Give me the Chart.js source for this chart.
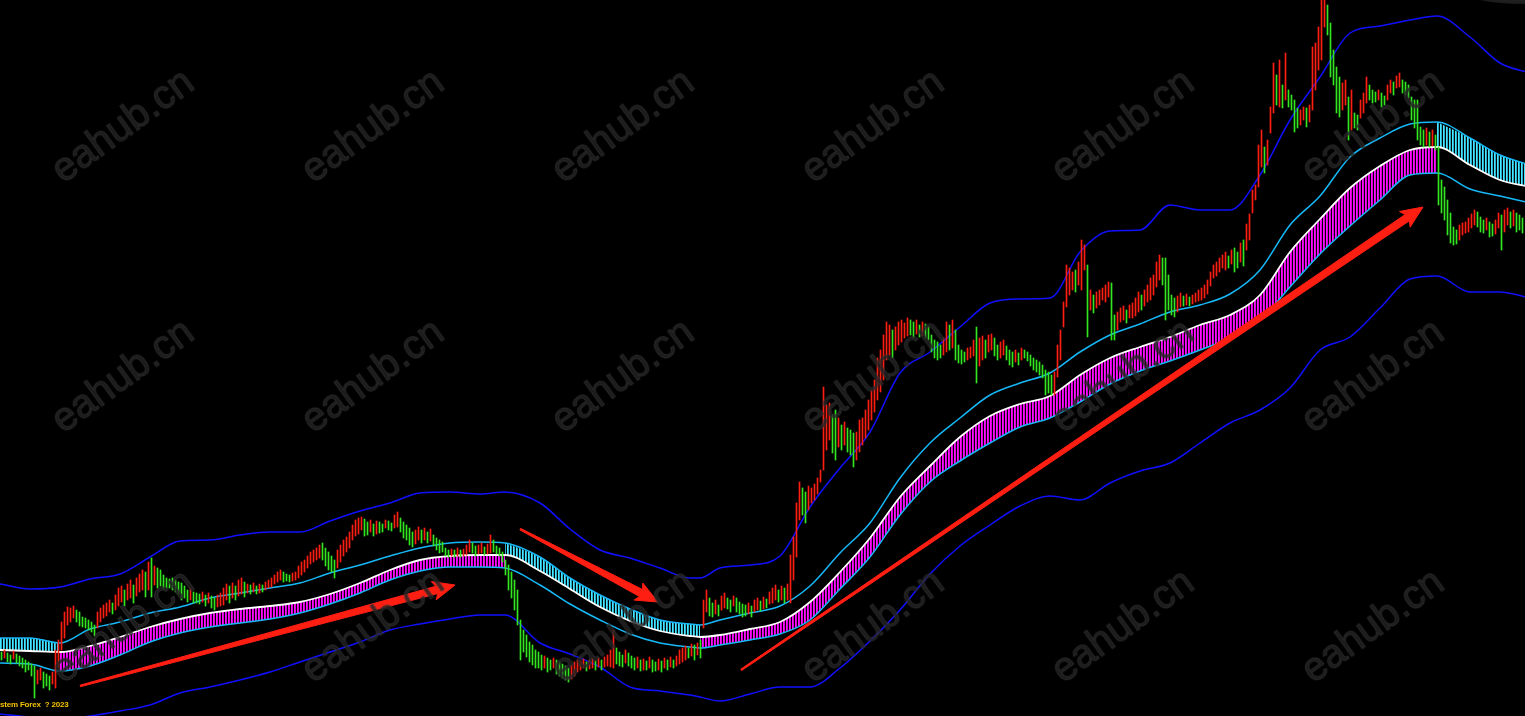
<!DOCTYPE html>
<html>
<head>
<meta charset="utf-8">
<title>Trend ribbon</title>
<script src="https://cdn.jsdelivr.net/npm/chart.js@4.4.0/dist/chart.umd.min.js"></script>
<style>
  html, body { margin: 0; padding: 0; background: #000; overflow: hidden; }
  #wrap { position: relative; width: 1525px; height: 716px; }
  .wm {
    position: absolute;
    font: 40px "Liberation Sans", Arial, sans-serif;
    color: rgba(34, 34, 34, 0.8);
    -webkit-text-stroke: 1px rgba(58, 58, 58, 0.6);
    transform: translate(-50%, -50%) rotate(-36deg);
    white-space: nowrap;
    pointer-events: none;
  }
  #copy {
    position: absolute; left: 0; top: 700px;
    font: bold 8px "Liberation Sans", Arial, sans-serif;
    letter-spacing: -0.2px;
    color: #f2c200;
    white-space: pre;
  }
  #blob {
    position: absolute; left: 1462px; top: -24px; width: 120px; height: 28px;
    border-radius: 50%;
    background: radial-gradient(ellipse at center, #3a3a3a 0%, #1a1a1a 70%, rgba(0,0,0,0) 100%);
  }
</style>
</head>
<body>
<div id="wrap">
  <canvas id="chart"></canvas>
  <div id="blob"></div>
  <div id="copy">stem Forex  ? 2023</div>
</div>
<script>
// x = time (one bar every 3 units), y = level measured from the top (axis reversed)
const knotX = [0,30,60,90,120,150,180,210,240,270, 300,330,360,390,420,450,480,505,540,570,
  600,630,660,690,700,720,750,780,810,840, 870,900,930,960,990,1020,1050,1080,1110,1140,
  1170,1200,1230,1260,1290,1320,1350,1380,1410,1437, 1470,1500,1530];

// white moving average
const maLine = [650,651,652,646,637,627,619,613,609,606, 602,594,583,570,560,556,555,555,571,589,
  607,621,631,636,637,635,629,622,602,572, 538,497,466,437,416,404,396,375,358,347,
  337,325,315,295,252,219,188,166,150,147, 165,180,187];
// inner (sky blue) channel
const innerUp = [638,638,643,629,622,613,607,598,593,588, 583,573,565,556,548,543,542,543,557,578,
  595,609,620,624,625,620,613,606,586,553, 523,478,443,418,395,383,373,352,335,324,
  312,305,294,270,225,196,157,138,124,122, 138,155,165];
const innerDn = [663,664,671,666,655,642,633,627,623,619, 613,604,593,580,571,567,567,568,585,604,
  620,634,643,647,648,645,640,634,620,589, 557,515,482,461,443,427,418,402,384,371,
  361,350,338,320,287,254,226,200,175,173, 189,196,203];
// outer (blue) channel
const outerUp = [584,589,587,579,574,557,541,540,535,532, 532,521,511,503,493,492,494,492,503,529,
  550,558,568,578,578,568,565,556,507,468, 432,373,352,327,303,299,298,252,231,230,
  205,210,210,175,120,77,33,26,20,16, 37,63,73];
const outerDn = [714,717,719,716,711,705,693,687,680,672, 662,652,642,630,624,619,615,615,643,654,
  667,687,691,695,697,701,694,687,687,668, 641,610,574,546,525,506,496,500,483,471,
  463,443,423,410,388,350,337,308,279,276, 292,292,298];

// trend phases of the ribbon
const trendSegs = [[0, 60, 'bear'], [60, 505, 'bull'], [505, 700, 'bear'], [700, 1437, 'bull'], [1437, 1530, 'bear']];

// price bars, one every 3 time units
const barTop = [652,650,653,655,651,654,656,658,660,662, 664,666,670,668,672,674,676,672,650,640,
  622,612,607,608,606,610,612,617,618,620, 622,625,612,608,605,603,600,603,595,588,
  586,590,584,580,585,578,574,570,572,562, 558,566,568,570,575,578,579,578,580,582,
  583,586,590,588,592,593,594,592,595,593, 596,598,595,593,588,584,586,583,586,580,
  578,582,584,585,583,586,584,585,582,580, 578,575,572,570,572,574,575,573,572,566,
  562,560,556,552,550,548,545,543,548,552, 556,560,550,545,540,537,532,525,520,518,
  517,519,522,520,524,521,522,524,520,521, 523,515,512,518,522,525,528,532,530,527,
  530,528,532,529,535,538,540,542,548,550, 549,550,548,550,549,545,540,543,546,545,
  543,547,544,535,540,546,548,552,560,565, 572,580,590,620,630,635,642,645,650,652,
  655,656,658,660,658,660,662,664,666,668, 665,662,660,661,659,662,660,658,661,658,
  660,657,655,650,630,648,652,655,650,653, 656,658,657,660,659,661,657,660,662,659,
  661,658,660,657,660,656,650,648,646,648, 644,645,643,640,600,590,598,603,600,605,
  596,593,598,600,596,598,602,604,605,603, 606,600,598,601,597,599,592,588,585,590,
  586,588,584,555,537,503,482,488,492,486, 488,484,478,470,387,405,403,415,410,418,
  425,422,428,430,433,432,420,418,410,400, 390,380,358,350,335,322,325,330,327,322,
  320,323,318,320,322,320,325,322,324,326, 335,340,342,345,338,322,325,320,330,345,
  350,352,348,347,340,327,338,336,340,335, 334,338,345,342,340,346,350,352,350,353,
  348,350,352,355,358,360,362,365,370,372, 375,372,345,330,302,265,268,272,270,262,
  240,245,265,290,295,292,290,288,285,282, 283,315,312,308,306,310,305,303,298,292,
  295,290,285,278,275,262,255,258,258,275, 295,298,296,293,296,294,297,295,293,290,
  288,285,280,272,265,262,258,255,252,256, 250,248,252,243,240,224,214,190,185,145,
  130,147,140,107,63,75,60,85,53,90, 95,100,108,110,107,108,105,47,43,27,
  0,-5,5,23,50,67,77,83,80,97, 90,113,115,100,93,77,85,90,92,90,
  93,96,85,80,82,76,73,80,82,85, 97,100,100,127,130,128,132,130,135,147,
  180,187,200,213,227,230,225,223,222,218, 214,210,212,217,220,218,222,224,220,213,
  215,210,208,212,210,213,215,218];
const barBottom = [660,658,662,664,659,663,666,668,672,670, 676,698,684,680,688,686,690,684,688,668,
  650,638,625,622,618,622,626,627,628,630, 632,636,628,622,618,616,612,614,610,606,
  602,606,600,598,603,596,592,590,597,590, 597,585,588,586,589,588,588,590,592,594,
  600,598,602,600,603,603,604,602,606,603, 608,610,607,606,605,600,603,598,600,596,
  594,597,593,594,592,594,593,592,590,588, 587,584,582,580,582,581,582,581,580,578,
  575,572,568,564,562,560,558,560,566,570, 572,578,568,562,556,552,548,540,536,534,
  530,536,535,532,536,534,533,532,528,530, 531,528,527,532,538,540,545,547,544,540,
  543,540,543,541,546,550,553,552,556,557, 556,557,556,557,556,555,552,553,556,554,
  553,555,554,553,552,554,556,562,575,590, 598,610,625,660,652,657,662,665,668,668,
  670,668,672,670,668,674,676,678,680,682, 679,676,672,670,668,671,669,668,670,667,
  670,667,666,667,668,664,666,667,663,666, 668,670,668,671,670,670,668,672,671,670,
  672,668,670,667,668,666,664,662,660,658, 656,660,655,658,628,612,616,617,614,616,
  610,608,609,612,606,612,614,617,616,614, 617,612,610,611,609,608,604,603,600,602,
  600,603,600,603,580,557,520,515,523,510, 503,500,494,482,470,450,440,453,460,447,
  450,445,452,455,467,460,452,445,438,430, 420,412,400,392,380,360,355,358,350,345,
  342,338,336,335,338,334,337,336,338,340, 352,358,360,358,355,352,350,348,360,363,
  364,362,360,358,356,383,366,360,358,352, 350,356,360,358,355,360,365,367,362,365,
  360,358,361,366,370,372,375,378,395,393, 395,395,377,360,327,307,295,290,292,285,
  290,270,337,310,313,308,305,300,302,297, 340,340,330,322,320,323,318,318,316,312,
  310,306,302,300,295,287,280,285,320,310, 315,317,312,307,306,305,306,304,302,301,
  300,298,294,286,278,276,272,268,270,268, 264,272,268,262,266,250,240,213,200,187,
  167,173,165,133,113,105,107,108,100,107, 110,132,128,125,120,127,122,110,90,70,
  60,27,35,77,85,113,117,110,105,140, 130,128,130,118,113,103,100,103,102,100,
  107,105,100,93,95,88,87,93,95,98, 120,128,140,145,147,145,147,146,150,205,
  213,220,235,243,245,244,240,235,233,232, 228,225,227,232,233,230,237,236,234,228,
  250,232,225,228,226,232,230,233];
const BAR_STEP = 3;

// annotation arrows: [fromX, fromY, toX, toY]
const arrows = [[80, 686, 455, 585], [520, 529, 658, 602], [741, 670, 1423, 207]];

// watermark grid
const wmCols = [122, 372, 622, 872, 1122, 1372];
const wmRows = [125, 375, 625];

const RED = '#ff1e12';
const GREEN = '#33e61f';

const wrap = document.getElementById('wrap');
wmRows.forEach(y => wmCols.forEach(x => {
  const d = document.createElement('div');
  d.className = 'wm';
  d.textContent = 'eahub.cn';
  d.style.left = x + 'px';
  d.style.top = y + 'px';
  wrap.appendChild(d);
}));

const canvas = document.getElementById('chart');
const ctx = canvas.getContext('2d');

function stripes(cols) {
  const c = document.createElement('canvas');
  c.width = cols.length; c.height = 4;
  const g = c.getContext('2d');
  cols.forEach((col, i) => { g.fillStyle = col; g.fillRect(i, 0, 1, 4); });
  return ctx.createPattern(c, 'repeat');
}
const bullFillPattern = stripes(['#ff10ff', '#d800d8', '#000000']);
const bearFillPattern = stripes(['#48e6ff', '#2aa8c8', '#000000']);

const pts = arr => knotX.map((x, i) => ({ x: x, y: arr[i] }));
const inTrend = (x, dir) => trendSegs.some(s => s[2] === dir && x >= s[0] && x <= s[1]);
const bullEdge = knotX.map((x, i) => ({ x: x, y: inTrend(x, 'bull') ? innerDn[i] : null }));
const bearEdge = knotX.map((x, i) => ({ x: x, y: inTrend(x, 'bear') ? innerUp[i] : null }));

const priceBars = barTop.map((t, i) => ({ x: i * BAR_STEP + 1.5, y: [t, barBottom[i]] }));
const barColors = priceBars.map((b, i) => {
  if (i === 0) return GREEN;
  const mid = (b.y[0] + b.y[1]) / 2;
  const prev = (priceBars[i - 1].y[0] + priceBars[i - 1].y[1]) / 2;
  return mid < prev ? RED : GREEN;
});

function arrowShape(a) {
  const [x1, y1, x2, y2] = a;
  const dx = x2 - x1, dy = y2 - y1, len = Math.hypot(dx, dy);
  const ux = dx / len, uy = dy / len, nx = -uy, ny = ux;
  const headLen = 19, headHalf = 9.5, shaftHalf = 3.8, tailHalf = 0.8;
  const bx = x2 - ux * headLen, by = y2 - uy * headLen;
  return [
    { x: x1 + nx * tailHalf, y: y1 + ny * tailHalf },
    { x: bx + nx * shaftHalf, y: by + ny * shaftHalf },
    { x: bx + nx * headHalf - ux * 3, y: by + ny * headHalf - uy * 3 },
    { x: x2, y: y2 },
    { x: bx - nx * headHalf - ux * 3, y: by - ny * headHalf - uy * 3 },
    { x: bx - nx * shaftHalf, y: by - ny * shaftHalf },
    { x: x1 - nx * tailHalf, y: y1 - ny * tailHalf }
  ];
}

const lineBase = { type: 'line', pointRadius: 0, cubicInterpolationMode: 'monotone', fill: false };

const datasets = [
  { ...lineBase, label: 'MA', data: pts(maLine), borderColor: '#ffffff', borderWidth: 1.8, order: 2 },
  { ...lineBase, label: 'Inner upper', data: pts(innerUp), borderColor: '#16b8f8', borderWidth: 1.5, order: 3 },
  { ...lineBase, label: 'Inner lower', data: pts(innerDn), borderColor: '#16b8f8', borderWidth: 1.5, order: 3 },
  { ...lineBase, label: 'Outer upper', data: pts(outerUp), borderColor: '#1010ff', borderWidth: 1.5, order: 4 },
  { ...lineBase, label: 'Outer lower', data: pts(outerDn), borderColor: '#1010ff', borderWidth: 1.5, order: 4 },
  { ...lineBase, label: 'Bull ribbon', data: bullEdge, borderWidth: 0, borderColor: 'rgba(0,0,0,0)',
    backgroundColor: bullFillPattern, fill: 0, spanGaps: false, order: 5 },
  { ...lineBase, label: 'Bear ribbon', data: bearEdge, borderWidth: 0, borderColor: 'rgba(0,0,0,0)',
    backgroundColor: bearFillPattern, fill: 0, spanGaps: false, order: 5 },
  { type: 'bar', label: 'Price', data: priceBars, backgroundColor: barColors, barThickness: 1,
    borderWidth: 0, borderSkipped: false, order: 1 }
];
arrows.forEach((a, i) => {
  datasets.push({ type: 'line', label: 'Arrow ' + (i + 1), data: arrowShape(a), pointRadius: 0, tension: 0,
    borderColor: RED, borderWidth: 1, backgroundColor: RED, fill: 'shape', order: 0 });
});

new Chart(canvas, {
  type: 'bar',
  data: { datasets: datasets },
  options: {
    responsive: true,
    maintainAspectRatio: false,
    animation: false,
    events: [],
    layout: { padding: 0 },
    plugins: { legend: { display: false }, tooltip: { enabled: false } },
    scales: {
      x: { type: 'linear', min: 0, max: 1525, offset: false, display: false, grid: { offset: false } },
      y: { type: 'linear', min: 0, max: 716, reverse: true, display: false }
    }
  }
});
</script>
</body>
</html>
